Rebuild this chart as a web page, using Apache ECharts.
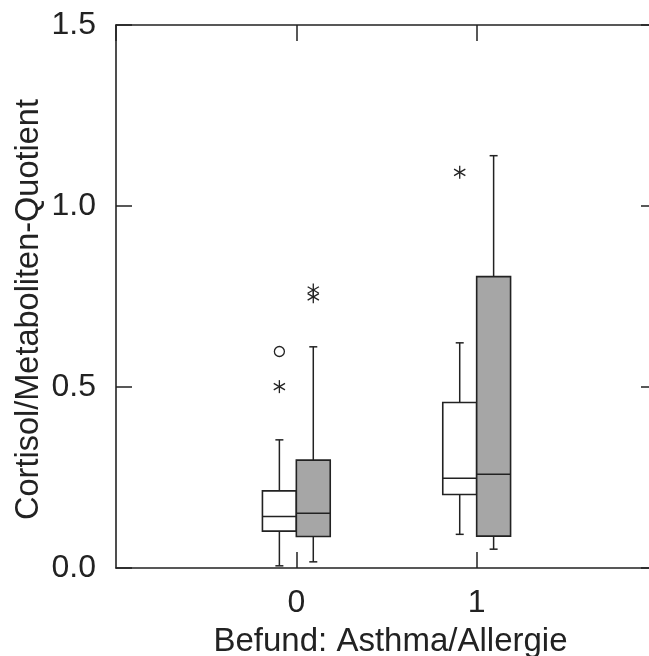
<!DOCTYPE html>
<html>
<head>
<meta charset="utf-8">
<script src="https://cdn.jsdelivr.net/npm/echarts@6/dist/echarts.min.js"></script>
<style>
    html, body { margin: 0; padding: 0; background: #fff; }
    #chart { width: 649px; height: 656px; }
</style>
</head>
<body>
<div id="chart"></div>
<script>
// Befund groups on the x axis
const groups = [0, 1];
// five-number summaries per group: [lower whisker, Q1, median, Q3, upper whisker]
const whiteStats = [
    [0.006, 0.102, 0.142, 0.213, 0.354],
    [0.093, 0.203, 0.248, 0.457, 0.622]
];
const greyStats = [
    [0.017, 0.087, 0.151, 0.298, 0.611],
    [0.052, 0.088, 0.259, 0.805, 1.139]
];
// outliers: [group, value]
const whiteCircles = [[0, 0.598]];
const whiteStars = [[0, 0.501], [1, 1.093]];
const greyStars = [[0, 0.768], [0, 0.749]];
const yTicks = [0, 0.5, 1.0, 1.5];

const lineColor = '#222';
const font = 'Liberation Sans, Arial, sans-serif';
const boxOffset = 0.094;
const boxWidth = 0.188;

const boxRows = (stats, side) => stats.map((s, i) => [groups[i] + side * boxOffset].concat(s));
const outlierRows = (pts, side, kind) => pts.map(([g, v]) => [g + side * boxOffset, v, kind]);

const renderBox = fill => (params, api) => {
    const x = api.value(0);
    const half = api.size([boxWidth, 0])[0] / 2;
    const cx = api.coord([x, 0])[0];
    const y = k => api.coord([x, api.value(k)])[1];
    const lo = y(1), q1 = y(2), med = y(3), q3 = y(4), hi = y(5);
    const cap = 4;
    const st = { stroke: lineColor, lineWidth: 1.5 };
    return {
        type: 'group',
        children: [
            { type: 'line', shape: { x1: cx, y1: q3, x2: cx, y2: hi }, style: st },
            { type: 'line', shape: { x1: cx, y1: q1, x2: cx, y2: lo }, style: st },
            { type: 'line', shape: { x1: cx - cap, y1: hi, x2: cx + cap, y2: hi }, style: st },
            { type: 'line', shape: { x1: cx - cap, y1: lo, x2: cx + cap, y2: lo }, style: st },
            { type: 'rect', shape: { x: cx - half, y: q3, width: half * 2, height: q1 - q3 },
              style: { fill: fill, stroke: lineColor, lineWidth: 1.6 } },
            { type: 'line', shape: { x1: cx - half, y1: med, x2: cx + half, y2: med }, style: st }
        ]
    };
};

const renderOutlier = (params, api) => {
    const p = api.coord([api.value(0), api.value(1)]);
    const kind = api.value(2);
    const st = { stroke: lineColor, lineWidth: 1.3, fill: 'none' };
    if (kind === 'circle') {
        return { type: 'circle', shape: { cx: p[0], cy: p[1], r: 5 }, style: st };
    }
    const r = 6.5;
    const children = [0, 60, 120].map(a => {
        const t = (a + 90) * Math.PI / 180;
        return { type: 'line', shape: {
            x1: p[0] - r * Math.cos(t), y1: p[1] - r * Math.sin(t),
            x2: p[0] + r * Math.cos(t), y2: p[1] + r * Math.sin(t)
        }, style: st };
    });
    return { type: 'group', children };
};

const axisLine = { show: true, onZero: false, lineStyle: { color: lineColor, width: 1.6 } };
const tickStyle = { show: true, inside: true, length: 16, lineStyle: { color: lineColor, width: 1.5 } };

const chart = echarts.init(document.getElementById('chart'));
chart.setOption({
    animation: false,
    backgroundColor: '#fff',
    grid: { left: 116, top: 25, right: -8, bottom: 88, containLabel: false, outerBoundsMode: 'none' },
    xAxis: [{
        type: 'value', position: 'bottom', min: -1, max: 2, interval: 1,
        name: 'Befund: Asthma/Allergie', nameLocation: 'middle', nameGap: 57,
        nameTextStyle: { fontFamily: font, fontSize: 33, color: '#222', padding: [0, 0, 0, 8] },
        axisLine, axisTick: tickStyle, splitLine: { show: false },
        axisLabel: { show: true, showMinLabel: false, showMaxLabel: false, margin: 19,
            fontFamily: font, fontSize: 32, color: '#222' }
    }, {
        type: 'value', position: 'top', min: -1, max: 2, interval: 1,
        axisLine, axisTick: tickStyle, splitLine: { show: false }, axisLabel: { show: false }
    }],
    yAxis: [{
        type: 'value', position: 'left', min: yTicks[0], max: yTicks[yTicks.length - 1], interval: 0.5,
        name: 'Cortisol/Metaboliten-Quotient', nameLocation: 'middle', nameGap: 70,
        nameMoveOverlap: false,
        nameTextStyle: { fontFamily: font, fontSize: 32.5, color: '#222', padding: [0, 26, 0, 0] },
        axisLine, axisTick: tickStyle, splitLine: { show: false },
        axisLabel: { margin: 20, fontFamily: font, fontSize: 32, color: '#222',
            formatter: v => v.toFixed(1) }
    }, {
        type: 'value', position: 'right', min: 0, max: 1.5, interval: 0.5,
        axisLine, axisTick: tickStyle, splitLine: { show: false }, axisLabel: { show: false }
    }],
    series: [{
        type: 'custom', name: 'white', renderItem: renderBox('#ffffff'),
        data: boxRows(whiteStats, -1), clip: false
    }, {
        type: 'custom', name: 'grey', renderItem: renderBox('#a6a6a6'),
        data: boxRows(greyStats, 1), clip: false
    }, {
        type: 'custom', name: 'outliers', renderItem: renderOutlier,
        data: outlierRows(whiteCircles, -1, 'circle')
            .concat(outlierRows(whiteStars, -1, 'star'))
            .concat(outlierRows(greyStars, 1, 'star'))
    }]
});
</script>
</body>
</html>
